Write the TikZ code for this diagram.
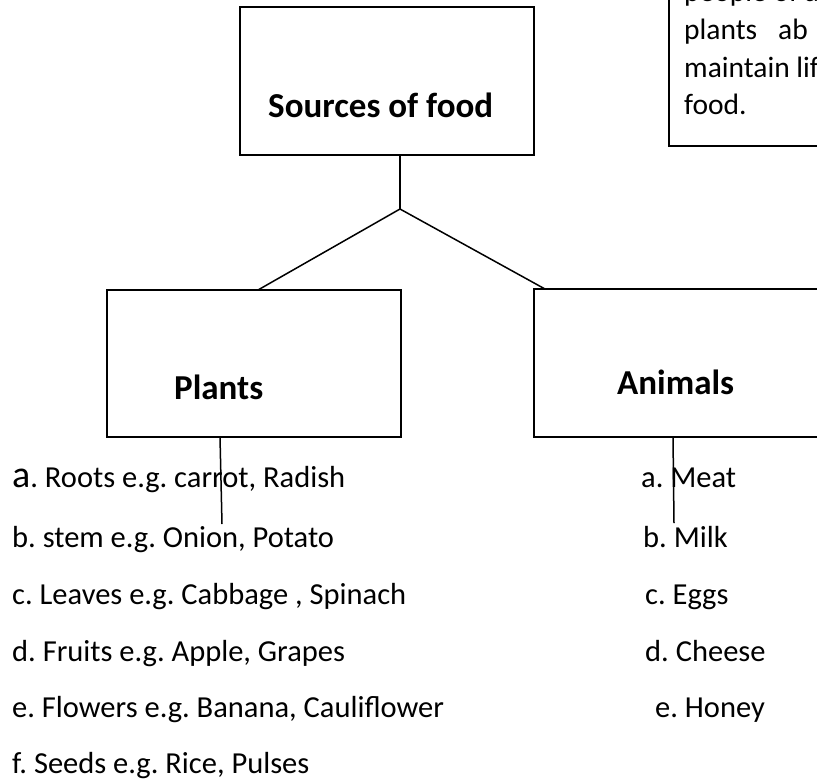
\documentclass[tikz,border=0pt]{standalone}
\usepackage{fontspec}
\setmainfont{Carlito}
\usetikzlibrary{calc}
\frenchspacing
\begin{document}
\frenchspacing
\begin{tikzpicture}[x=1pt,y=-1pt,
  box/.style={draw,line width=2pt,inner sep=0,outer sep=0},
  conn/.style={line width=1.5pt},
  reg/.style={anchor=base west,inner sep=0,font=\fontsize{30.5}{36}\selectfont},
  boldtxt/.style={anchor=base west,inner sep=0,font=\fontsize{35}{42}\selectfont\bfseries},
  note/.style={anchor=base west,inner sep=0,font=\fontsize{29.5}{36}\selectfont}]
\path[use as bounding box, clip] (0,0) rectangle (817,780);

% boxes
\node[box,minimum width=294pt,minimum height=148pt] (src) at (387,81) {};
\node[box,minimum width=294pt,minimum height=147pt] (pl) at (254,363.5) {};
\node[box,minimum width=300pt,minimum height=148pt] (an) at (684,363) {};
\node[box,minimum width=170pt,minimum height=160pt] (nt) at (754,66) {};

% box titles
\node[boldtxt] (srct) at (268,117) {Sources of food};
\node[boldtxt] (plt) at (174,399) {Plants};
\node[boldtxt] (ant) at (617,394) {Animals};

% note text
\node[note] (n1) at (684,1) {people of a};
\node[note] (n2) at (684,39) {plants};
\node[note] (n2b) at (778,39) {ab};
\node[note] (n3) at (684,77) {maintain life};
\node[note] (n4) at (684,114) {food.};

% plant list
\node[reg] (p1) at (12,487) {{\fontsize{38}{40}\selectfont a}. Roots e.g. carrot, Radish};
\node[reg] (p2) at (12,547) {b. stem e.g. Onion, Potato};
\node[reg] (p3) at (12,604) {c. Leaves e.g. Cabbage , Spinach};
\node[reg] (p4) at (12,661) {d. Fruits e.g. Apple, Grapes};
\node[reg] (p5) at (12,717) {e. Flowers e.g. Banana, Cauliflower};
\node[reg] (p6) at (12,773) {f. Seeds e.g. Rice, Pulses};

% animal list
\node[reg] (a1) at (641,487) {a. Meat};
\node[reg] (a2) at (643,547) {b. Milk};
\node[reg] (a3) at (645,604) {c. Eggs};
\node[reg] (a4) at (645,661) {d. Cheese};
\node[reg] (a5) at (655,717) {e. Honey};

% connectors
\coordinate (j) at (400,209);
\coordinate (pe) at (222,524);
\coordinate (ae) at (674,523);
\draw[conn] (src.south -| j) -- (j);
\draw[conn] (j) -- ($(pl.north west)+(151,0)$);
\draw[conn] (j) -- ($(an.north west)+(11,0)$);
\draw[conn] ($(pl.south west)+(113,0)$) -- (pe);
\draw[conn] ($(an.south west)+(139,0)$) -- (ae);
\end{tikzpicture}
\end{document}
